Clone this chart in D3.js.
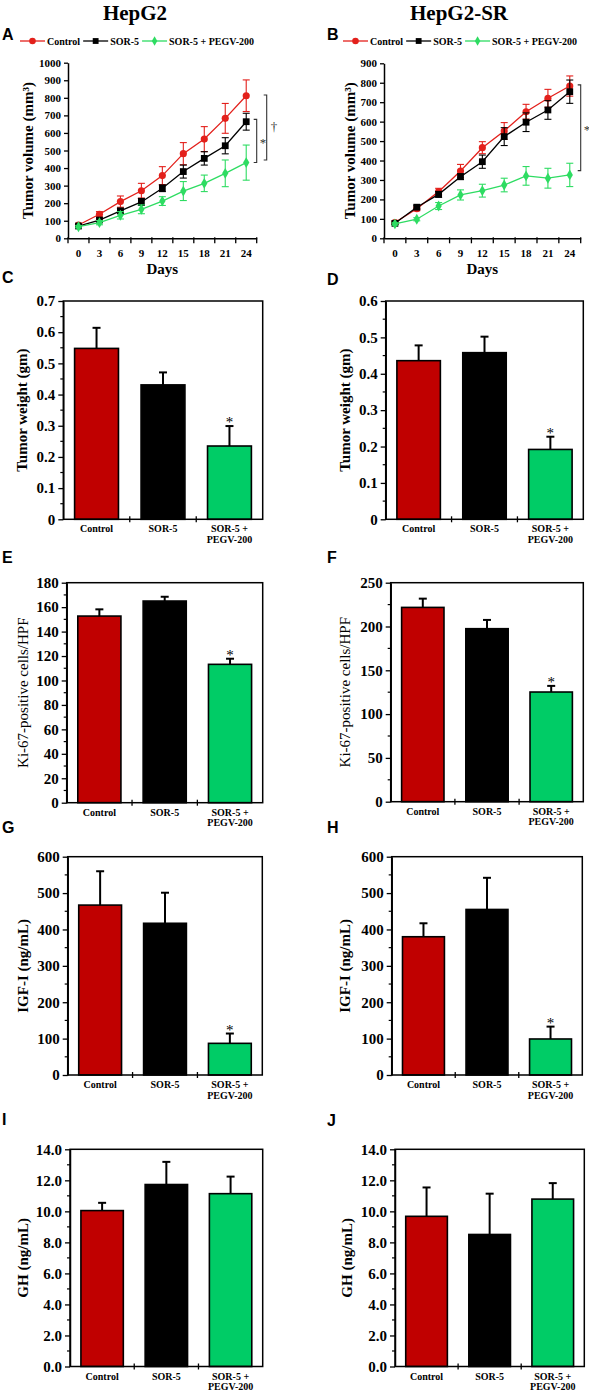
<!DOCTYPE html>
<html><head><meta charset="utf-8">
<script src="https://cdn.jsdelivr.net/npm/d3@7"></script>
<style>body{margin:0;background:#fff}svg{display:block}</style>
</head><body>
<svg id="fig" width="589" height="1393"></svg>
<script>
// ---------------- DATA ----------------
const days = [0, 3, 6, 9, 12, 15, 18, 21, 24];
const seriesNames = ["Control", "SOR-5", "SOR-5 + PEGV-200"];

// Panel A: HepG2 tumor volume (mm3)
const aControl    = [76, 137, 209, 271, 357, 482, 565, 683, 812];
const aControlErr = [8, 15, 32, 42, 51, 63, 71, 85, 90];
const aSor        = [70, 104, 156, 207, 285, 380, 455, 527, 664];
const aSorErr     = [6, 12, 15, 20, 19, 37, 38, 46, 48];
const aCombo      = [66, 89, 131, 165, 212, 269, 313, 370, 431];
const aComboErr   = [6, 12, 21, 25, 25, 54, 47, 76, 100];
const aYTicks = [0, 100, 200, 300, 400, 500, 600, 700, 800, 900, 1000];
const aBrackets = [{top: 677, bottom: 432, label: "*"}, {top: 816, bottom: 446, label: "\u2020"}];

// Panel B: HepG2-SR tumor volume (mm3)
const bControl    = [81, 152, 240, 346, 466, 552, 651, 720, 783];
const bControlErr = [8, 10, 17, 34, 31, 43, 38, 46, 52];
const bSor        = [77, 160, 226, 317, 394, 523, 597, 660, 754];
const bSorErr     = [6, 10, 15, 15, 34, 46, 48, 48, 60];
const bCombo      = [74, 98, 166, 223, 245, 274, 321, 309, 326];
const bComboErr   = [6, 8, 18, 26, 33, 35, 48, 51, 60];
const bYTicks = [0, 100, 200, 300, 400, 500, 600, 700, 800, 900];
const bBrackets = [{top: 789, bottom: 348, label: "*"}];

// Bar panels
const categories = ["Control", "SOR-5", "SOR-5 + PEGV-200"];
const categoryLines = [["Control"], ["SOR-5"], ["SOR-5 +", "PEGV-200"]];

const cWeight = [0.548, 0.431, 0.235];  const cWeightErr = [0.066, 0.040, 0.064];
const dWeight = [0.436, 0.458, 0.192];  const dWeightErr = [0.042, 0.044, 0.035];
const eKi67 = [152.7, 165.0, 113.2];    const eKi67Err = [5.5, 3.5, 4.6];
const fKi67 = [221.8, 197.5, 125.2];    const fKi67Err = [10, 10, 7];
const gIgf = [467, 417, 87];            const gIgfErr = [93, 84, 27];
const hIgf = [380, 455, 99];            const hIgfErr = [37, 87, 34];
const iGh = [10.05, 11.73, 11.14];      const iGhErr = [0.50, 1.46, 1.10];
const jGh = [9.68, 8.51, 10.79];        const jGhErr = [1.86, 2.63, 1.03];

const weightSig = [false, false, true];
const ki67Sig = [false, false, true];
const igfSig = [false, false, true];
const ghSig = [false, false, false];

const cYTicks = [0, 0.1, 0.2, 0.3, 0.4, 0.5, 0.6, 0.7];
const dYTicks = [0, 0.1, 0.2, 0.3, 0.4, 0.5, 0.6];
const eYTicks = [0, 20, 40, 60, 80, 100, 120, 140, 160, 180];
const fYTicks = [0, 50, 100, 150, 200, 250];
const gYTicks = [0, 100, 200, 300, 400, 500, 600];
const ghYTicks = [0, 2, 4, 6, 8, 10, 12, 14];

// ---------------- STYLE ----------------
const SERIF = "'Liberation Serif','Times New Roman',serif";
const SANS = "'Liberation Sans',Arial,sans-serif";
const lineColors = ["#E3201B", "#000000", "#2EDC62"];
const barColors = ["#C00000", "#000000", "#00CC66"];

const svg = d3.select("#fig");

function styleAxis(sel, fs) {
  sel.select(".domain").attr("stroke", "#000").attr("stroke-width", 1.5);
  sel.selectAll(".tick line").attr("stroke", "#000").attr("stroke-width", 1.3);
  sel.selectAll(".tick text").attr("font-family", SERIF).attr("font-weight", "bold")
     .attr("font-size", fs).attr("fill", "#000");
}

function panelLetter(t, x, y) {
  svg.append("text").attr("x", x).attr("y", y).text(t)
    .attr("font-family", SANS).attr("font-weight", "bold").attr("font-size", 16);
}

function yTitle(t, x, y0, y1, bold) {
  svg.append("text")
    .attr("transform", `translate(${x},${(y0 + y1) / 2}) rotate(-90)`)
    .attr("text-anchor", "middle").attr("dy", "0.35em")
    .attr("font-family", SERIF).attr("font-weight", bold ? "bold" : "normal")
    .attr("font-size", 15).text(t);
}

// ---------------- LINE PANELS ----------------
function linePanel(L, data, yTicks, brackets, title) {
  const x = d3.scaleBand().domain(days).range([L.x0, L.x1]);
  const y = d3.scaleLinear().domain([0, d3.max(yTicks)]).range([L.yBot, L.yTop]);
  const cx = d => x(d) + x.bandwidth() / 2;
  const g = svg.append("g");

  // y axis
  const ya = g.append("g").attr("transform", `translate(${L.x0},0)`)
    .call(d3.axisLeft(y).tickValues(yTicks).tickSize(4).tickPadding(3).tickSizeOuter(0).tickFormat(d3.format("d")));
  styleAxis(ya, 11);

  // x axis (labels at category centres, ticks at boundaries)
  const xa = g.append("g").attr("transform", `translate(0,${L.yBot})`)
    .call(d3.axisBottom(x).tickSize(0).tickPadding(11).tickSizeOuter(0));
  styleAxis(xa, 11);
  xa.selectAll(".tick text").attr("transform", d => `translate(${x.bandwidth() / 2},0)`);
  xa.selectAll(".tick").attr("transform", d => `translate(${x(d)},0)`);
  g.selectAll("line.bt").data(days.concat(["end"])).join("line")
    .attr("x1", d => d === "end" ? L.x1 : x(d)).attr("x2", d => d === "end" ? L.x1 : x(d))
    .attr("y1", L.yBot - 1).attr("y2", L.yBot + 5).attr("stroke", "#000").attr("stroke-width", 1.3);

  g.append("text").attr("x", (L.x0 + L.x1) / 2).attr("y", L.yBot + 36).attr("text-anchor", "middle")
    .attr("font-family", SERIF).attr("font-weight", "bold").attr("font-size", 15).text("Days");

  // series
  data.forEach((s, si) => {
    const pts = days.map((d, i) => ({d, v: s.v[i], e: s.e[i]}));
    const sg = g.append("g");
    sg.append("path").datum(pts).attr("fill", "none").attr("stroke", lineColors[si]).attr("stroke-width", 1.3)
      .attr("d", d3.line().x(p => cx(p.d)).y(p => y(p.v)));
    sg.selectAll("line.eb").data(pts).join("line")
      .attr("x1", p => cx(p.d)).attr("x2", p => cx(p.d))
      .attr("y1", p => y(p.v - p.e)).attr("y2", p => y(p.v + p.e))
      .attr("stroke", lineColors[si]).attr("stroke-width", 1.1);
    ["top", "bot"].forEach(k => {
      sg.selectAll("line.cap" + k).data(pts).join("line")
        .attr("x1", p => cx(p.d) - 3.5).attr("x2", p => cx(p.d) + 3.5)
        .attr("y1", p => y(k === "top" ? p.v + p.e : p.v - p.e))
        .attr("y2", p => y(k === "top" ? p.v + p.e : p.v - p.e))
        .attr("stroke", lineColors[si]).attr("stroke-width", 1.1);
    });
    const sym = [d3.symbolCircle, d3.symbolSquare, d3.symbolDiamond][si];
    const size = [40, 46, 34][si];
    sg.selectAll("path.mk").data(pts).join("path")
      .attr("transform", p => `translate(${cx(p.d)},${y(p.v)})`)
      .attr("d", d3.symbol(sym, size)).attr("fill", lineColors[si]);
  });

  // significance brackets
  brackets.forEach((b, bi) => {
    const bx = L.x1 + bi * 10;
    const bg = g.append("g").attr("stroke", "#333").attr("stroke-width", 1.1).attr("fill", "none");
    bg.append("path").attr("d", `M${bx - 3},${y(b.top)}H${bx}V${y(b.bottom)}H${bx - 3}`);
    g.append("text").attr("x", bx + (b.label === "*" ? 3 : 4)).attr("y", (y(b.top) + y(b.bottom)) / 2 + (b.label === "*" ? 6 : 4))
      .attr("font-family", SERIF).attr("font-size", 13).attr("fill", "#333").text(b.label);
  });

  // legend
  let lx = L.legX;
  const ly = L.legY;
  seriesNames.forEach((n, si) => {
    svg.append("line").attr("x1", lx).attr("x2", lx + 25).attr("y1", ly).attr("y2", ly)
      .attr("stroke", lineColors[si]).attr("stroke-width", 1.3);
    const sym = [d3.symbolCircle, d3.symbolSquare, d3.symbolDiamond][si];
    svg.append("path").attr("transform", `translate(${lx + 12.5},${ly})`)
      .attr("d", d3.symbol(sym, [34, 34, 26][si])).attr("fill", lineColors[si]);
    const t = svg.append("text").attr("x", lx + 27).attr("y", ly + 3.5)
      .attr("font-family", SERIF).attr("font-weight", "bold").attr("font-size", 10).text(n);
    lx = lx + 27 + t.node().getComputedTextLength() + 3;
  });

  yTitle("Tumor volume (mm\u00B3)", L.titleX, L.yTop, L.yBot, true);
  svg.append("text").attr("x", L.headX).attr("y", 20).attr("text-anchor", "middle")
    .attr("font-family", SERIF).attr("font-weight", "bold").attr("font-size", 21).text(title);
}

// ---------------- BAR PANELS ----------------
function barPanel(L, values, errs, sig, yTicks, fmt, title, titleBold) {
  const xc = d3.scaleBand().domain(categories).range([L.x0, L.x1]);
  const xb = d3.scaleBand().domain(categories).range([L.x0, L.x1]).paddingInner(0.34).paddingOuter(0.17);
  const y = d3.scaleLinear().domain([0, d3.max(yTicks)]).range([L.yBot, L.yTop]);
  const g = svg.append("g");
  const minor = d3.pairs(yTicks).map(([a, b]) => (a + b) / 2);

  // minor ticks
  g.selectAll("line.mn").data(minor).join("line")
    .attr("x1", L.x0 - 3).attr("x2", L.x0).attr("y1", d => y(d)).attr("y2", d => y(d))
    .attr("stroke", "#000").attr("stroke-width", 1.2);
  const ya = g.append("g").attr("transform", `translate(${L.x0},0)`)
    .call(d3.axisLeft(y).tickValues(yTicks).tickSize(5).tickPadding(3).tickSizeOuter(0).tickFormat(fmt));
  styleAxis(ya, 15);

  // bars
  const data = categories.map((c, i) => ({c, v: values[i], e: errs[i], s: sig[i], i}));
  g.selectAll("line.eb").data(data).join("line")
    .attr("x1", d => xb(d.c) + xb.bandwidth() / 2).attr("x2", d => xb(d.c) + xb.bandwidth() / 2)
    .attr("y1", d => y(d.v)).attr("y2", d => y(d.v + d.e)).attr("stroke", "#000").attr("stroke-width", 2);
  g.selectAll("line.cap").data(data).join("line")
    .attr("x1", d => xb(d.c) + xb.bandwidth() / 2 - 4).attr("x2", d => xb(d.c) + xb.bandwidth() / 2 + 4)
    .attr("y1", d => y(d.v + d.e)).attr("y2", d => y(d.v + d.e)).attr("stroke", "#000").attr("stroke-width", 2);
  g.selectAll("rect.bar").data(data).join("rect")
    .attr("x", d => xb(d.c)).attr("width", xb.bandwidth())
    .attr("y", d => y(d.v)).attr("height", d => y(0) - y(d.v))
    .attr("fill", d => barColors[d.i]).attr("stroke", "#000").attr("stroke-width", 1.6);
  g.selectAll("text.sig").data(data.filter(d => d.s)).join("text")
    .attr("x", d => xb(d.c) + xb.bandwidth() / 2).attr("y", d => y(d.v + d.e) + 1)
    .attr("text-anchor", "middle").attr("font-family", SERIF).attr("font-size", 15).attr("fill", "#000").text("*");

  // frame
  g.append("rect").attr("x", L.x0).attr("y", L.yTop).attr("width", L.x1 - L.x0).attr("height", L.yBot - L.yTop)
    .attr("fill", "none").attr("stroke", "#000").attr("stroke-width", 1.5);
  // category boundary ticks
  g.selectAll("line.ct").data(categories.slice(1)).join("line")
    .attr("x1", d => xc(d)).attr("x2", d => xc(d)).attr("y1", L.yBot - 3).attr("y2", L.yBot + 3)
    .attr("stroke", "#000").attr("stroke-width", 1.3);
  // category labels
  categoryLines.forEach((lines, i) => {
    lines.forEach((t, k) => {
      g.append("text").attr("x", xc(categories[i]) + xc.bandwidth() / 2).attr("y", L.yBot + 13 + k * 10.5)
        .attr("text-anchor", "middle").attr("font-family", SERIF).attr("font-weight", "bold")
        .attr("font-size", 10).text(t);
    });
  });
  yTitle(title, L.titleX, L.yTop, L.yBot, titleBold);
}

// ---------------- LAYOUT ----------------
linePanel({x0: 68, x1: 256.7, yTop: 62.7, yBot: 238.3, titleX: 28, legX: 20, legY: 41, headX: 135},
  [{v: aControl, e: aControlErr}, {v: aSor, e: aSorErr}, {v: aCombo, e: aComboErr}], aYTicks, aBrackets, "HepG2");
linePanel({x0: 384, x1: 580.7, yTop: 63.3, yBot: 238.3, titleX: 350, legX: 343, legY: 41, headX: 459},
  [{v: bControl, e: bControlErr}, {v: bSor, e: bSorErr}, {v: bCombo, e: bComboErr}], bYTicks, bBrackets, "HepG2-SR");

const f1 = d => d === 0 ? "0" : d3.format(".1f")(d);
const fd = d3.format("d");
const f1a = d3.format(".1f");

barPanel({x0: 63.3, x1: 262.7, yTop: 301, yBot: 519.3, titleX: 22}, cWeight, cWeightErr, weightSig, cYTicks, f1, "Tumor weight (gm)", true);
barPanel({x0: 385.7, x1: 583.3, yTop: 301, yBot: 519.3, titleX: 345}, dWeight, dWeightErr, weightSig, dYTicks, f1, "Tumor weight (gm)", true);
barPanel({x0: 66.7, x1: 262.7, yTop: 582.7, yBot: 802.7, titleX: 23}, eKi67, eKi67Err, ki67Sig, eYTicks, fd, "Ki-67-positive cells/HPF", false);
barPanel({x0: 390.7, x1: 583.3, yTop: 582.7, yBot: 801.7, titleX: 345}, fKi67, fKi67Err, ki67Sig, fYTicks, fd, "Ki-67-positive cells/HPF", false);
barPanel({x0: 67.7, x1: 262.3, yTop: 856.7, yBot: 1075, titleX: 23}, gIgf, gIgfErr, igfSig, gYTicks, fd, "IGF-I (ng/mL)", true);
barPanel({x0: 391.7, x1: 582.3, yTop: 856.7, yBot: 1075, titleX: 345}, hIgf, hIgfErr, igfSig, gYTicks, fd, "IGF-I (ng/mL)", true);
barPanel({x0: 70, x1: 262.7, yTop: 1149.3, yBot: 1366.5, titleX: 23}, iGh, iGhErr, ghSig, ghYTicks, f1a, "GH (ng/mL)", true);
barPanel({x0: 395, x1: 584.3, yTop: 1149.3, yBot: 1366.5, titleX: 347}, jGh, jGhErr, ghSig, ghYTicks, f1a, "GH (ng/mL)", true);

panelLetter("A", 2, 40); panelLetter("B", 327, 40);
panelLetter("C", 2, 283); panelLetter("D", 327, 285);
panelLetter("E", 2, 563); panelLetter("F", 327, 563);
panelLetter("G", 2, 833); panelLetter("H", 327, 833);
panelLetter("I", 2, 1125); panelLetter("J", 327, 1126);
</script>
</body></html>
